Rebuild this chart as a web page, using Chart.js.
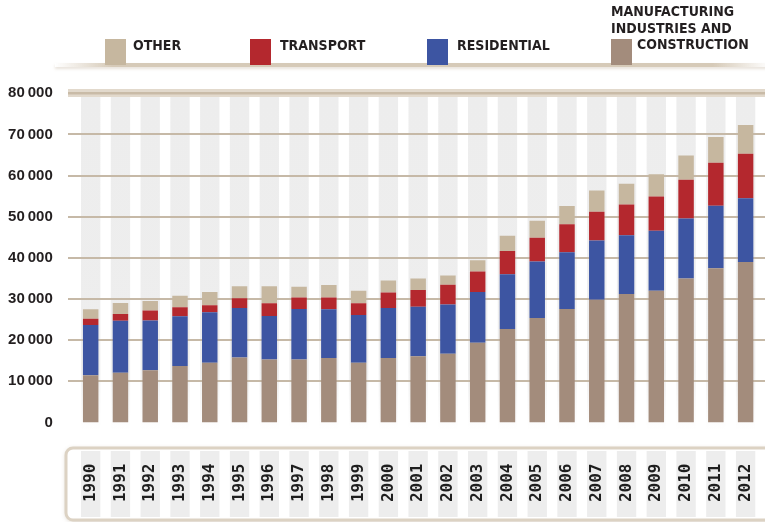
<!DOCTYPE html>
<html>
<head>
<meta charset="utf-8">
<script src="https://cdn.jsdelivr.net/npm/chart.js@4/dist/chart.umd.min.js"></script>
<style>
  html, body { margin: 0; padding: 0; background: #fff; }
  #wrap { position: relative; width: 765px; height: 522px; overflow: hidden; }
  #chart { position: absolute; left: 0; top: 0; }
  .shelf { position: absolute; left: 55px; top: 63px; width: 715px; height: 4px;
    background: linear-gradient(to right, rgba(214,202,184,0) 0%, #d6cab8 8%, #d6cab8 92%, rgba(214,202,184,0) 100%);
    box-shadow: 0 2px 3px rgba(190,172,148,0.35); }
  .sw { position: absolute; top: 39px; width: 21px; height: 26px; }
  .lbl { position: absolute; font-family: "Liberation Sans Narrow", "DejaVu Sans Condensed", sans-serif;
    font-weight: bold; font-size: 14px; line-height: 14px; color: #231f20; white-space: nowrap; }
</style>
</head>
<body>
<div id="wrap">
  <canvas id="chart" width="765" height="522"></canvas>
  <div class="shelf"></div>
  <div class="sw" style="left:105px;background:#c6b79f"></div>
  <div class="lbl" style="left:133px;top:38px">OTHER</div>
  <div class="sw" style="left:250px;background:#b4282e"></div>
  <div class="lbl" style="left:280px;top:38px">TRANSPORT</div>
  <div class="sw" style="left:427px;background:#3d55a2"></div>
  <div class="lbl" style="left:457px;top:38px">RESIDENTIAL</div>
  <div class="sw" style="left:611px;background:#a38c7c"></div>
  <div class="lbl" style="left:611px;top:4px">MANUFACTURING</div>
  <div class="lbl" style="left:611px;top:20.5px">INDUSTRIES AND</div>
  <div class="lbl" style="left:637px;top:37px">CONSTRUCTION</div>
</div>
<script>
// Years on the category axis
const years = ['1990','1991','1992','1993','1994','1995','1996','1997','1998','1999','2000',
  '2001','2002','2003','2004','2005','2006','2007','2008','2009','2010','2011','2012'];

// Emissions by sector (stacked from the bottom)
const manufacturing = [11500,12100,12700,13700,14500,15800,15300,15300,15700,14500,15700,
  16100,16700,19400,22700,25400,27600,29800,31200,32000,35000,37500,39000];
const residential = [12200,12600,12100,12100,12300,12000,10600,12300,11800,11600,12100,
  12000,12000,12300,13300,13700,13800,14400,14300,14600,14600,15200,15500];
const transport = [1500,1650,2400,2200,1700,2400,3100,2800,2900,2900,3800,
  4100,4800,5000,5700,5800,6800,7000,7500,8300,9400,10400,10800];
const other = [2300,2700,2300,2800,3200,2900,4100,2600,3000,3000,2900,
  2800,2200,2700,3700,4100,4400,5200,5000,5400,5900,6300,7000];

// Value axis ticks
const yTicks = [0,10000,20000,30000,40000,50000,60000,70000,80000];

function fmtThousands(v) {
  if (v === 0) return '0';
  return Math.floor(v / 1000) + '\u2009000';
}

// Background columns, the year box and the horizontal rules
const backdrop = {
  id: 'backdrop',
  beforeDraw(chart) {
    const { ctx, scales: { x, y } } = chart;
    const step = x.getPixelForValue(1) - x.getPixelForValue(0);
    const sw = step * 0.65;
    const top = y.getPixelForValue(yTicks[yTicks.length - 1]);
    const bot = y.getPixelForValue(0);
    ctx.save();
    ctx.fillStyle = '#ffffff';
    ctx.fillRect(0, 0, chart.width, chart.height);

    // light columns behind each bar, fading out towards the base
    const g = ctx.createLinearGradient(0, top, 0, bot + 8);
    g.addColorStop(0, '#ededed');
    g.addColorStop(0.82, '#eeeeee');
    g.addColorStop(1, 'rgba(242,242,242,0)');
    ctx.fillStyle = g;
    years.forEach((_, i) => {
      const cx = x.getPixelForValue(i);
      ctx.fillRect(cx - sw / 2, top, sw, bot + 8 - top);
    });

    // rounded box holding the year labels
    const bx = 66, by = 448, bw = 720, bh = 72, r = 7;
    ctx.save();
    ctx.shadowColor = 'rgba(160,140,110,0.45)';
    ctx.shadowBlur = 5;
    ctx.shadowOffsetY = 1;
    ctx.beginPath();
    ctx.roundRect(bx, by, bw, bh, r);
    ctx.fillStyle = '#ffffff';
    ctx.fill();
    ctx.restore();
    ctx.lineWidth = 3;
    ctx.strokeStyle = '#dcd2c3';
    ctx.beginPath();
    ctx.roundRect(bx, by, bw, bh, r);
    ctx.stroke();
    ctx.fillStyle = '#ededed';
    years.forEach((_, i) => {
      const cx = x.getPixelForValue(i);
      ctx.fillRect(cx - sw / 2, by + 3, sw, bh - 6);
    });
    ctx.restore();
  },
  beforeDatasetsDraw(chart) {
    const { ctx, scales: { y } } = chart;
    const x0 = 68, x1 = 765;
    ctx.save();
    yTicks.forEach((v) => {
      const py = Math.round(y.getPixelForValue(v));
      if (v === 0) return;
      if (v === yTicks[yTicks.length - 1]) {
        // heavier rule along the top
        ctx.fillStyle = '#e2d9cc';
        ctx.fillRect(x0, py - 4, x1 - x0, 8);
        ctx.fillStyle = '#c9bba7';
        ctx.fillRect(x0, py - 1, x1 - x0, 2.5);
        return;
      }
      ctx.fillStyle = '#c6b9a7';
      ctx.fillRect(x0, py - 1, x1 - x0, 2);
    });
    ctx.restore();
  }
};

new Chart(document.getElementById('chart'), {
  type: 'bar',
  data: {
    labels: years,
    datasets: [
      { label: 'MANUFACTURING INDUSTRIES AND CONSTRUCTION', data: manufacturing, backgroundColor: '#a38c7c' },
      { label: 'RESIDENTIAL', data: residential, backgroundColor: '#3d55a2' },
      { label: 'TRANSPORT', data: transport, backgroundColor: '#b4282e' },
      { label: 'OTHER', data: other, backgroundColor: '#c6b79f' }
    ]
  },
  options: {
    responsive: false,
    animation: false,
    events: [],
    layout: { padding: { top: 93.3, right: 4.5, left: 0, bottom: 0 } },
    datasets: { bar: { categoryPercentage: 1, barPercentage: 0.52, borderWidth: 0 } },
    plugins: { legend: { display: false }, tooltip: { enabled: false } },
    scales: {
      x: {
        stacked: true,
        grid: { display: false, drawTicks: false },
        border: { display: false },
        ticks: {
          autoSkip: false, minRotation: 90, maxRotation: 90, padding: 41,
          color: '#1e1e1e',
          font: { family: '"DejaVu Sans Mono", monospace', weight: 'bold', size: 16 }
        },
        afterFit(scale) {
          scale.height = 99.5;
          scale.paddingLeft = 0;
          scale.paddingRight = 0;
        }
      },
      y: {
        stacked: true,
        min: 0, max: 80000,
        afterBuildTicks(scale) { scale.ticks = yTicks.map(v => ({ value: v })); },
        grid: { display: false, drawTicks: false },
        border: { display: false },
        ticks: {
          padding: 23,
          color: '#231f20',
          font: { family: '"Liberation Sans", Arial, sans-serif', weight: 'bold', size: 15 },
          callback: (v) => fmtThousands(v)
        },
        afterFit(scale) {
          scale.width = 75.8;
          scale.paddingTop = 0;
          scale.paddingBottom = 0;
        }
      }
    }
  },
  plugins: [backdrop]
});
</script>
</body>
</html>
